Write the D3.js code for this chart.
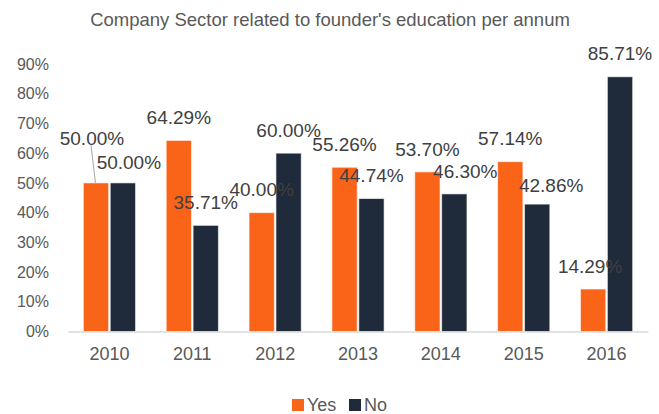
<!DOCTYPE html>
<html>
<head>
<meta charset="utf-8">
<script src="https://cdn.jsdelivr.net/npm/d3@7"></script>
<style>
  body { margin: 0; background: #fff; }
  text { font-family: "Liberation Sans", Arial, sans-serif; }
</style>
</head>
<body>
<div id="chart"></div>
<script>
// chart data
const years = ["2010", "2011", "2012", "2013", "2014", "2015", "2016"];
const yesValues = [50.00, 64.29, 40.00, 55.26, 53.70, 57.14, 14.29];
const noValues = [50.00, 35.71, 60.00, 44.74, 46.30, 42.86, 85.71];
const yTicks = [0, 10, 20, 30, 40, 50, 60, 70, 80, 90];
const seriesNames = ["Yes", "No"];

// set the dimensions and margins of the graph
const width = 659, height = 414;
const margin = {top: 64, right: 11, bottom: 82.5, left: 68};

const colors = {Yes: "#FA6419", No: "#1F2A3B"};

const svg = d3.select("#chart")
    .append("svg")
    .attr("width", width)
    .attr("height", height);

// title
svg.append("text")
    .attr("x", 330)
    .attr("y", 26)
    .attr("text-anchor", "middle")
    .style("font-size", "18.5px")
    .style("fill", "#595959")
    .text("Company Sector related to founder's education per annum");

// scales
const x0 = d3.scaleBand()
    .domain(years)
    .range([margin.left, width - margin.right])
    .paddingInner(0.37)
    .paddingOuter(0.185);

const x1 = d3.scaleBand()
    .domain(seriesNames)
    .range([0, x0.bandwidth()])
    .paddingInner(0.06);

const y = d3.scaleLinear()
    .domain([0, 90])
    .range([height - margin.bottom, margin.top]);

// Y axis (labels only)
const yAxis = svg.append("g")
    .attr("transform", `translate(${margin.left - 19},0)`)
    .call(d3.axisLeft(y).tickValues(yTicks).tickSize(0).tickPadding(0).tickFormat(d => d + "%"));
yAxis.select(".domain").remove();
yAxis.selectAll("text")
    .style("font-size", "16px")
    .style("fill", "#595959")
    .style("font-family", "'Liberation Sans', Arial, sans-serif");

// X axis
const xAxisScale = d3.scaleBand().domain(years).range([margin.left, width - margin.right]);
const xAxis = svg.append("g")
    .attr("transform", `translate(0,${height - margin.bottom})`)
    .call(d3.axisBottom(xAxisScale).tickSize(0).tickPadding(16).tickSizeOuter(0));
xAxis.select(".domain").attr("stroke", "#d9d9d9").attr("stroke-width", 1.5);
xAxis.selectAll("text")
    .style("font-size", "18px")
    .style("fill", "#595959")
    .style("font-family", "'Liberation Sans', Arial, sans-serif");

// rows for each bar
const rows = [];
years.forEach((yr, i) => {
    rows.push({year: yr, series: "Yes", value: yesValues[i], idx: i});
    rows.push({year: yr, series: "No", value: noValues[i], idx: i});
});

// bars
svg.append("g")
    .selectAll("rect")
    .data(rows)
    .join("rect")
    .attr("x", d => x0(d.year) + x1(d.series))
    .attr("y", d => y(d.value))
    .attr("width", x1.bandwidth())
    .attr("height", d => y(0) - y(d.value))
    .attr("fill", d => colors[d.series])
    .attr("stroke", "#ffffff")
    .attr("stroke-opacity", 0.6)
    .attr("stroke-width", 1);

// label nudges (Excel labels moved by hand)
const nudge = {
    Yes: [[-4, -22], [0, 0], [0, 0], [0, 0], [0, 0], [0, 0], [-3, 0]],
    No: [[6, 2], [0, 0], [0, 0], [0, 0], [11, 0], [14, 4], [0, 0]]
};

const labelX = d => x0(d.year) + x1(d.series) + x1.bandwidth() / 2 + nudge[d.series][d.idx][0];
const labelY = d => y(d.value) - 23 + nudge[d.series][d.idx][1];

// leader line for the first label
const first = rows[0];
svg.append("line")
    .attr("x1", labelX(first) - 1)
    .attr("y1", labelY(first) + 7)
    .attr("x2", x0(first.year) + x1(first.series) + x1.bandwidth() / 2 - 0.5)
    .attr("y2", y(first.value))
    .attr("stroke", "#a6a6a6")
    .attr("stroke-width", 1);

// data labels
svg.append("g")
    .selectAll("text")
    .data(rows)
    .join("text")
    .attr("x", labelX)
    .attr("y", labelY)
    .attr("dy", "0.35em")
    .attr("text-anchor", "middle")
    .style("font-size", "19px")
    .style("fill", "#404040")
    .text(d => d.value.toFixed(2) + "%");

// legend
const legend = svg.append("g").attr("transform", "translate(292,405)");
const legendX = {Yes: 0, No: 57};
seriesNames.forEach(s => {
    legend.append("rect")
        .attr("x", legendX[s])
        .attr("y", -6)
        .attr("width", 12)
        .attr("height", 12)
        .attr("fill", colors[s]);
    legend.append("text")
        .attr("x", legendX[s] + 15)
        .attr("y", 0)
        .attr("dy", "0.35em")
        .style("font-size", "18px")
        .style("fill", "#595959")
        .text(s);
});
</script>
</body>
</html>
